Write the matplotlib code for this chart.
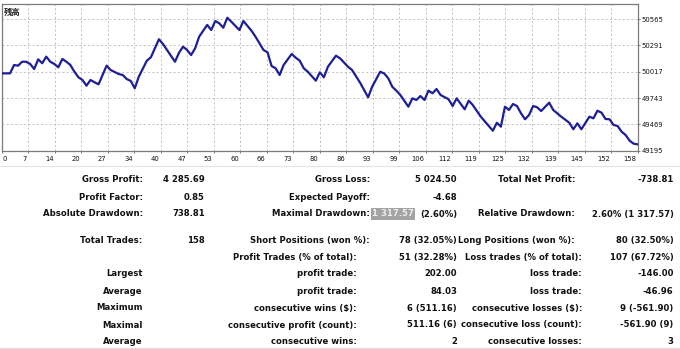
import matplotlib
matplotlib.use("Agg")
import matplotlib.pyplot as plt
import matplotlib.transforms as mtransforms

# ---- balance curve (trade number -> account balance) ----
trade_no = [0, 2, 3, 4, 5, 6, 7, 8, 9, 10, 11, 12, 13, 14, 15, 16, 17, 18, 19, 20,
            21, 22, 23, 24, 26, 27, 29, 30, 31, 32, 33, 34, 36, 37, 39, 40, 43, 44,
            45, 46, 47, 48, 49, 51, 52, 53, 54, 55, 56, 57, 59, 60, 62, 63, 65, 66,
            67, 68, 69, 70, 72, 73, 74, 75, 76, 78, 79, 80, 81, 83, 84, 86, 87, 89,
            91, 92, 94, 95, 96, 97, 98, 99, 101, 102, 103, 104, 105, 106, 107, 108,
            109, 111, 112, 113, 115, 116, 117, 119, 122, 123, 124, 125, 126, 127,
            128, 129, 130, 131, 132, 133, 134, 136, 137, 139, 141, 142, 143, 144,
            146, 147, 148, 149, 150, 151, 152, 153, 154, 155, 156, 157, 158]
balance = [50000, 50000, 50087, 50080, 50121, 50121, 50098, 50045, 50146, 50105,
           50174, 50121, 50098, 50063, 50150, 50121, 50087, 50017, 49959, 49931,
           49872, 49931, 49907, 49886, 50080, 50035, 49993, 49983, 49941, 49921,
           49845, 49965, 50132, 50167, 50355, 50306, 50121, 50215, 50278, 50243,
           50191, 50261, 50382, 50504, 50451, 50545, 50521, 50475, 50578.76, 50538,
           50451, 50545, 50444, 50382, 50243, 50219, 50077, 50053, 49983, 50087,
           50202, 50163, 50132, 50053, 50017, 49924, 50011, 49959, 50069, 50184,
           50157, 50069, 50035, 49903, 49751, 49861, 50017, 49999, 49949, 49861,
           49820, 49775, 49653, 49740, 49723, 49764, 49723, 49820, 49793, 49837,
           49775, 49730, 49660, 49740, 49626, 49716, 49671, 49549, 49403, 49486,
           49445, 49653, 49619, 49681, 49660, 49584, 49522, 49567, 49660, 49647,
           49608, 49695, 49619, 49549, 49486, 49418, 49480, 49418, 49549, 49532,
           49611, 49591, 49525, 49522, 49463, 49452, 49393, 49358, 49299, 49268,
           49261.19]

x_tick_labels = ["0", "7", "14", "20", "27", "34", "40", "47", "53", "60", "66", "73",
                 "80", "86", "93", "99", "106", "112", "119", "125", "132", "139",
                 "145", "152", "158"]
y_ticks = [49195, 49469, 49743, 50017, 50291, 50565]
y_tick_labels = ["49195", "49469", "49743", "50017", "50291", "50565"]
chart_title = "残高"

# ---- report table ----
col1_labels = ["Gross Profit:", "Profit Factor:", "Absolute Drawdown:", "Total Trades:",
               "", "Largest", "Average", "Maximum", "Maximal", "Average"]
col2_values = ["4 285.69", "0.85", "738.81", "158", "", "", "", "", "", ""]
col3_labels = ["Gross Loss:", "Expected Payoff:", "Maximal Drawdown:",
               "Short Positions (won %):", "Profit Trades (% of total):",
               "profit trade:", "profit trade:", "consecutive wins ($):",
               "consecutive profit (count):", "consecutive wins:"]
col4_values = ["5 024.50", "-4.68", "", "78 (32.05%)", "51 (32.28%)", "202.00",
               "84.03", "6 (511.16)", "511.16 (6)", "2"]
col5_labels = ["Total Net Profit:", "", "Relative Drawdown:", "Long Positions (won %):",
               "Loss trades (% of total):", "loss trade:", "loss trade:",
               "consecutive losses ($):", "consecutive loss (count):",
               "consecutive losses:"]
col6_values = ["-738.81", "", "2.60% (1 317.57)", "80 (32.50%)", "107 (67.72%)",
               "-146.00", "-46.96", "9 (-561.90)", "-561.90 (9)", "3"]
max_dd_value = "1 317.57"
max_dd_pct = "(2.60%)"

W, H, DPI = 680, 349, 100
fig = plt.figure(figsize=(W / DPI, H / DPI), dpi=DPI)
fig.patch.set_facecolor("white")

# chart area in pixel units
L, R, T, B = 2.0, 637.7, 4.0, 150.7
ax = fig.add_axes([L / W, 1 - B / H, (R - L) / W, (B - T) / H])

line_color = "#1e1e96"
ax.plot(trade_no, balance, color=line_color, lw=1.6, solid_joinstyle="round",
        zorder=3)

n_last = 158
ax.set_xlim(0, n_last)
ax.set_ylim(49195, 50722)

x_pos = [k * n_last / 24 for k in range(25)]
ax.set_xticks(x_pos, x_tick_labels)
ax.set_yticks(y_ticks, y_tick_labels)
ax.yaxis.tick_right()

grid_c = "#c4c4c4"
ax.grid(True, color=grid_c, lw=0.7, ls=(0, (2.2, 2.2)))
for s in ax.spines.values():
    s.set_color("#7a7a7a")
    s.set_linewidth(0.9)
ax.tick_params(axis="x", length=1.6, width=0.7, color="#7a7a7a", pad=2.4,
               labelsize=4.9, labelcolor="#111111")
ax.tick_params(axis="y", length=1.6, width=0.7, color="#7a7a7a", pad=1.4,
               labelsize=4.9, labelcolor="#111111")

# x labels sit just left of their grid line (first one to the right)
for i, lab in enumerate(ax.get_xticklabels()):
    if i == 0:
        lab.set_ha("left")
        off = mtransforms.ScaledTranslation(0.5 / DPI, 0, fig.dpi_scale_trans)
    else:
        lab.set_ha("right")
        off = mtransforms.ScaledTranslation(-1.5 / DPI, 0, fig.dpi_scale_trans)
    lab.set_transform(lab.get_transform() + off)

# overlay in pixel coordinates for the title and the report table
ov = fig.add_axes([0, 0, 1, 1], zorder=5)
ov.set_xlim(0, W)
ov.set_ylim(H, 0)
ov.axis("off")
ov.patch.set_alpha(0)

ov.text(4, 12, chart_title, family=["Noto Sans CJK JP", "DejaVu Sans"],
        fontsize=6, fontweight="bold", color="#222222", ha="left", va="center")

row_y = [180, 197, 214, 240.5, 257.5, 274, 291, 308, 325, 342]
txt = dict(family="DejaVu Sans", fontweight="bold", fontsize=6.1, color="#111111",
           va="center")
x1, x2, x4, x6 = 142.7, 204.7, 457.0, 673.5
for i, y in enumerate(row_y):
    upper = i < 4
    x3 = 370.0 if upper else 356.5
    x5 = 575.0 if upper else 582.0
    ov.text(x1, y, col1_labels[i], ha="right", **txt)
    ov.text(x2, y, col2_values[i], ha="right", **txt)
    ov.text(x3, y, col3_labels[i], ha="right", **txt)
    ov.text(x4, y, col4_values[i], ha="right", **txt)
    ov.text(x5, y, col5_labels[i], ha="right", **txt)
    ov.text(x6, y, col6_values[i], ha="right", **txt)

# maximal drawdown value with its selection highlight
ov.text(x4, row_y[2], max_dd_pct, ha="right", **txt)
hl = dict(txt)
hl["color"] = "#eeeeee"
ov.text(414, row_y[2], max_dd_value, ha="right",
        bbox=dict(boxstyle="square,pad=0.12", fc="#a3a3a3", ec="none"), **hl)

# faint frame lines of the report
ov.plot([0, W], [165.5, 165.5], color="#e4e4e4", lw=0.8)
ov.plot([0, W], [347.5, 347.5], color="#dadada", lw=0.8)

fig.savefig("out.png", dpi=DPI, facecolor="white")
